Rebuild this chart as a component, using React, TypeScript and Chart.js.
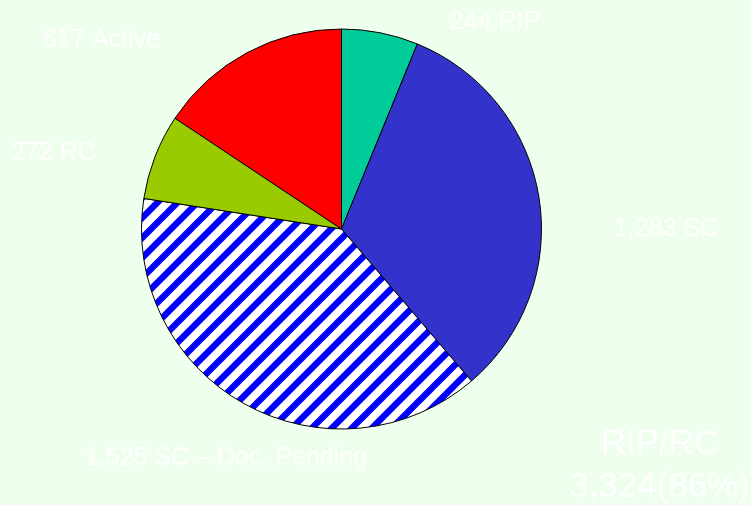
import React, { useEffect, useRef } from "react";
import { Chart, registerables } from "chart.js";

Chart.register(...registerables);

const categories = ["RIP", "SC", "SC – Doc. Pending", "RC", "Active"];
const values = [244, 1283, 1525, 272, 617];
const labelTexts = ["244 RIP", "1,283 SC", "1,525 SC – Doc. Pending", "272 RC", "617 Active"];
const summaryLines = ["RIP/RC", "3,324(86%)"];

const W = 751;
const H = 505;
const BG = "#EEFFEE";

function makeHatch(): CanvasPattern | string {
  const s = 20;
  const c = document.createElement("canvas");
  c.width = s;
  c.height = s;
  const ctx = c.getContext("2d");
  if (!ctx) return "#0000FF";
  ctx.fillStyle = "#FFFFFF";
  ctx.fillRect(0, 0, s, s);
  ctx.strokeStyle = "#0000FF";
  ctx.lineWidth = 6.5;
  ctx.beginPath();
  ctx.moveTo(-4, 4);
  ctx.lineTo(4, -4);
  ctx.moveTo(-2, s + 2);
  ctx.lineTo(s + 2, -2);
  ctx.moveTo(s - 4, s + 4);
  ctx.lineTo(s + 4, s - 4);
  ctx.stroke();
  const p = ctx.createPattern(c, "repeat");
  return p || "#0000FF";
}

// label anchor positions (center x, baseline y), layout only
const labelPos: [number, number][] = [
  [495, 29],
  [666, 236],
  [226, 465],
  [53.5, 160],
  [101.5, 47],
];

export default function App() {
  const ref = useRef<HTMLCanvasElement | null>(null);
  useEffect(() => {
    if (!ref.current) return;
    const hatch = makeHatch();
    const textPlugin = {
      id: "texts",
      afterDraw(chart: any) {
        const ctx = chart.ctx;
        ctx.save();
        ctx.fillStyle = "#FFFFFF";
        ctx.textAlign = "center";
        ctx.textBaseline = "alphabetic";
        ctx.font = "25px 'Liberation Sans', Arial, sans-serif";
        labelTexts.forEach((t, i) => {
          const [x, y] = labelPos[i];
          ctx.fillText(t, x, y);
        });
        ctx.font = "35px 'Liberation Sans', Arial, sans-serif";
        ctx.fillText(summaryLines[0], 660, 454);
        ctx.fillText(summaryLines[1], 659.5, 497);
        ctx.restore();
      },
    };
    const chart = new Chart(ref.current, {
      type: "pie",
      data: {
        labels: categories,
        datasets: [
          {
            data: values,
            backgroundColor: ["#00CC99", "#3333CC", hatch as any, "#99CC00", "#FF0000"],
            borderColor: "#000000",
            borderWidth: 1,
          },
        ],
      },
      options: {
        responsive: false,
        animation: false,
        layout: { padding: { left: 141, right: 209, top: 28, bottom: 75 } },
        plugins: {
          legend: { display: false },
          tooltip: { enabled: false },
        },
      },
      plugins: [textPlugin],
    });
    return () => chart.destroy();
  }, []);
  return (
    <div style={{ position: "fixed", left: 0, top: 0, width: W, height: H, background: BG }}>
      <canvas ref={ref} width={W} height={H} style={{ width: W, height: H, display: "block" }} />
    </div>
  );
}
